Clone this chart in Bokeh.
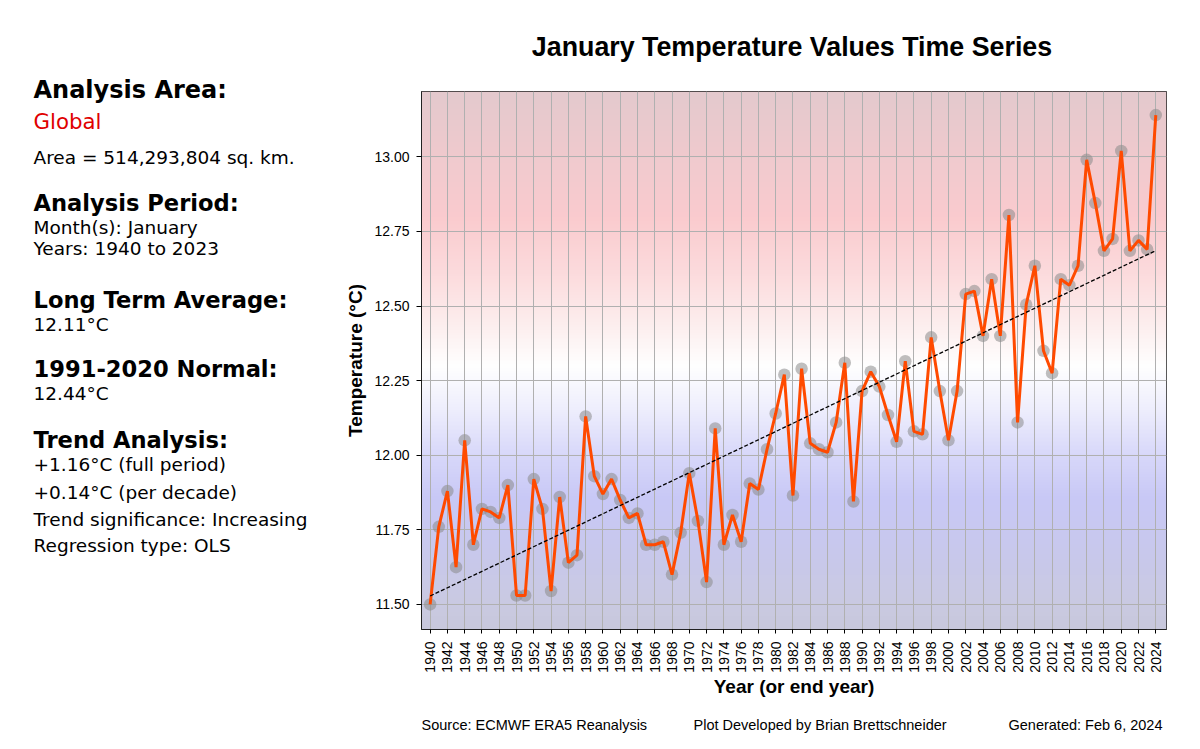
import math
import numpy as np
from bokeh.plotting import figure
from bokeh.layouts import row, column
from bokeh.models import Range1d, FixedTicker, Label, NumeralTickFormatter
from bokeh.embed import file_html
from bokeh.resources import INLINE

# ---------------- data ----------------
years = list(range(1940, 2025))
temps = [
    11.50, 11.76, 11.88, 11.625, 12.05, 11.70, 11.82, 11.81, 11.79, 11.90,    # 1940-1949
    11.53, 11.53, 11.92, 11.82, 11.545, 11.86, 11.64, 11.665, 12.13, 11.93,   # 1950-1959
    11.87, 11.92, 11.85, 11.79, 11.805, 11.70, 11.70, 11.71, 11.60, 11.74,    # 1960-1969
    11.94, 11.78, 11.575, 12.09, 11.70, 11.80, 11.71, 11.905, 11.885, 12.02,  # 1970-1979
    12.14, 12.27, 11.865, 12.29, 12.04, 12.02, 12.01, 12.11, 12.31, 11.845,   # 1980-1989
    12.215, 12.28, 12.23, 12.135, 12.045, 12.315, 12.08, 12.07, 12.395, 12.215,  # 1990-1999
    12.05, 12.215, 12.54, 12.55, 12.40, 12.59, 12.40, 12.805, 12.11, 12.505,  # 2000-2009
    12.635, 12.35, 12.275, 12.59, 12.57, 12.635, 12.99, 12.845, 12.685, 12.725,  # 2010-2019
    13.02, 12.685, 12.72, 12.69, 13.14,                                       # 2020-2024
]
x_ticks = list(range(1940, 2025, 2))
y_ticks = [11.50, 11.75, 12.00, 12.25, 12.50, 12.75, 13.00]

side_lines = [
    ("Analysis Area:", "head1"),
    ("Global", "area"),
    ("Area = 514,293,804 sq. km.", "body"),
    ("Analysis Period:", "head"),
    ("Month(s): January", "body"),
    ("Years: 1940 to 2023", "body"),
    ("Long Term Average:", "head"),
    ("12.11°C", "body"),
    ("1991-2020 Normal:", "head"),
    ("12.44°C", "body"),
    ("Trend Analysis:", "head"),
    ("+1.16°C (full period)", "body"),
    ("+0.14°C (per decade)", "body"),
    ("Trend significance: Increasing", "body"),
    ("Regression type: OLS", "body"),
]
side_y = [89, 121, 157, 202, 227, 248, 299, 324, 368, 393, 439, 464, 492, 519, 545]

title_text = "January Temperature Values Time Series"
footer_texts = ["Source: ECMWF ERA5 Reanalysis",
                "Plot Developed by Brian Brettschneider",
                "Generated: Feb 6, 2024"]
footer_x = [81, 353, 668]

# ---------------- layout sizes ----------------
SIDE_W = 340
MAIN_W = 850
HEAD_H, MAIN_H, FOOT_H = 78, 630, 32
TOTAL_H = HEAD_H + MAIN_H + FOOT_H
FL, FR = 81, 826          # frame left/right inside main figure
FT, FB = 13, 551          # frame top/bottom inside main figure
X0, X1 = 1939.0, 2025.24
Y0, Y1 = 11.416, 13.219


def blank(w, h, x_range, left=0, right=0):
    f = figure(width=w, height=h, output_backend="svg", toolbar_location=None,
               x_range=x_range, y_range=Range1d(h, 0),
               x_axis_location=None, y_axis_location=None,
               min_border=0, min_border_left=left, min_border_right=right,
               background_fill_color="white", border_fill_color="white")
    f.outline_line_color = None
    f.xgrid.visible = False
    f.ygrid.visible = False
    return f


def add_text(f, txt, x, y, size, bold=False, color="black", font="DejaVu Sans", align="left"):
    f.add_layout(Label(x=x, y=y, text=txt, text_font=font, text_font_size=f"{size}px",
                       text_font_style="bold" if bold else "normal",
                       text_color=color, text_align=align, text_baseline="middle"))


# ---------------- side panel ----------------
side = blank(SIDE_W, TOTAL_H, Range1d(0, SIDE_W))
for (txt, kind), cy in zip(side_lines, side_y):
    if kind == "head1":
        add_text(side, txt, 33, cy, 24, bold=True)
    elif kind == "head":
        add_text(side, txt, 33, cy, 22.6, bold=True)
    elif kind == "area":
        add_text(side, txt, 33, cy, 21.3, color="#e00000")
    else:
        add_text(side, txt, 33, cy, 18.5)

# ---------------- header / footer (frames aligned with main frame) ----------------
head = blank(MAIN_W, HEAD_H, Range1d(FL, FR), left=FL, right=MAIN_W - FR)
add_text(head, title_text, (FL + FR) / 2 - 2, 46, 26.8, bold=True, font="Liberation Sans", align="center")

foot = blank(MAIN_W, FOOT_H, Range1d(FL, FR), left=FL, right=MAIN_W - FR)
for txt, fx in zip(footer_texts, footer_x):
    add_text(foot, txt, fx, 16, 14.5, font="Liberation Sans")

# ---------------- main chart ----------------
p = figure(width=MAIN_W, height=MAIN_H, output_backend="svg", toolbar_location=None,
           x_range=Range1d(X0, X1), y_range=Range1d(Y0, Y1),
           min_border_left=FL, min_border_right=MAIN_W - FR,
           min_border_top=FT, min_border_bottom=MAIN_H - FB,
           background_fill_color="white", border_fill_color="white")
p.outline_line_color = "#222222"
p.outline_line_width = 1

# background gradient
stops_v = [Y0, 11.5, 11.7, 11.85, 12.0, 12.15, 12.3, 12.42, 12.6, 12.8, 13.0, Y1]
stops_c = [(200, 200, 220), (202, 202, 226), (200, 200, 238), (200, 200, 246),
           (216, 216, 250), (238, 238, 253), (255, 255, 255), (253, 240, 240),
           (252, 220, 222), (250, 203, 206), (240, 202, 206), (228, 201, 205)]
N = 400
vals = np.linspace(Y0, Y1, N)
img = np.empty((N, 1), dtype=np.uint32)
view = img.view(dtype=np.uint8).reshape((N, 1, 4))
for k in range(3):
    view[:, 0, k] = np.interp(vals, stops_v, [c[k] for c in stops_c]).astype(np.uint8)
view[:, 0, 3] = 255
bg = p.image_rgba(image=[img], x=X0, y=Y0, dw=X1 - X0, dh=Y1 - Y0)
bg.level = "image"

# grid
p.xgrid.ticker = FixedTicker(ticks=x_ticks)
p.ygrid.ticker = FixedTicker(ticks=y_ticks)
for g in (p.xgrid, p.ygrid):
    g.grid_line_color = "#b0b0b0"
    g.grid_line_width = 1

# axes
p.xaxis.ticker = FixedTicker(ticks=x_ticks)
p.yaxis.ticker = FixedTicker(ticks=y_ticks)
p.yaxis.formatter = NumeralTickFormatter(format="0.00")
p.xaxis.major_label_orientation = math.pi / 2
for ax in (p.xaxis, p.yaxis):
    ax.major_label_text_font = "Liberation Sans"
    ax.major_label_text_font_size = "14px"
    ax.major_label_text_color = "black"
    ax.axis_label_text_font = "Liberation Sans"
    ax.axis_label_text_font_size = "19px"
    ax.axis_label_text_font_style = "bold"
    ax.axis_label_text_color = "black"
    ax.major_tick_in = 0
    ax.minor_tick_out = 0
    ax.minor_tick_in = 0
    ax.major_tick_line_color = "black"
    ax.axis_line_color = "#222222"
p.xaxis.major_tick_out = 4
p.xaxis.major_label_standoff = 8
p.yaxis.major_tick_out = 5
p.yaxis.major_label_standoff = 7
p.xaxis.axis_label = "Year (or end year)"
p.yaxis.axis_label = "Temperature (°C)"
p.xaxis.axis_label_standoff = 0
p.yaxis.axis_label_standoff = 5

# markers, series line, trend
p.scatter(years, temps, size=12.5, fill_color="#8a8a8a", fill_alpha=0.55, line_color=None)
p.line(years, temps, line_color="#ff4a00", line_width=3)
slope, intercept = np.polyfit(np.array(years, float), np.array(temps, float), 1)
p.line([years[0], years[-1]], [slope * years[0] + intercept, slope * years[-1] + intercept],
       line_color="black", line_width=1.3, line_dash="4 2")

layout = row(side, column(head, p, foot, spacing=0), spacing=0)
open("out.html", "w").write(file_html(layout, INLINE))
